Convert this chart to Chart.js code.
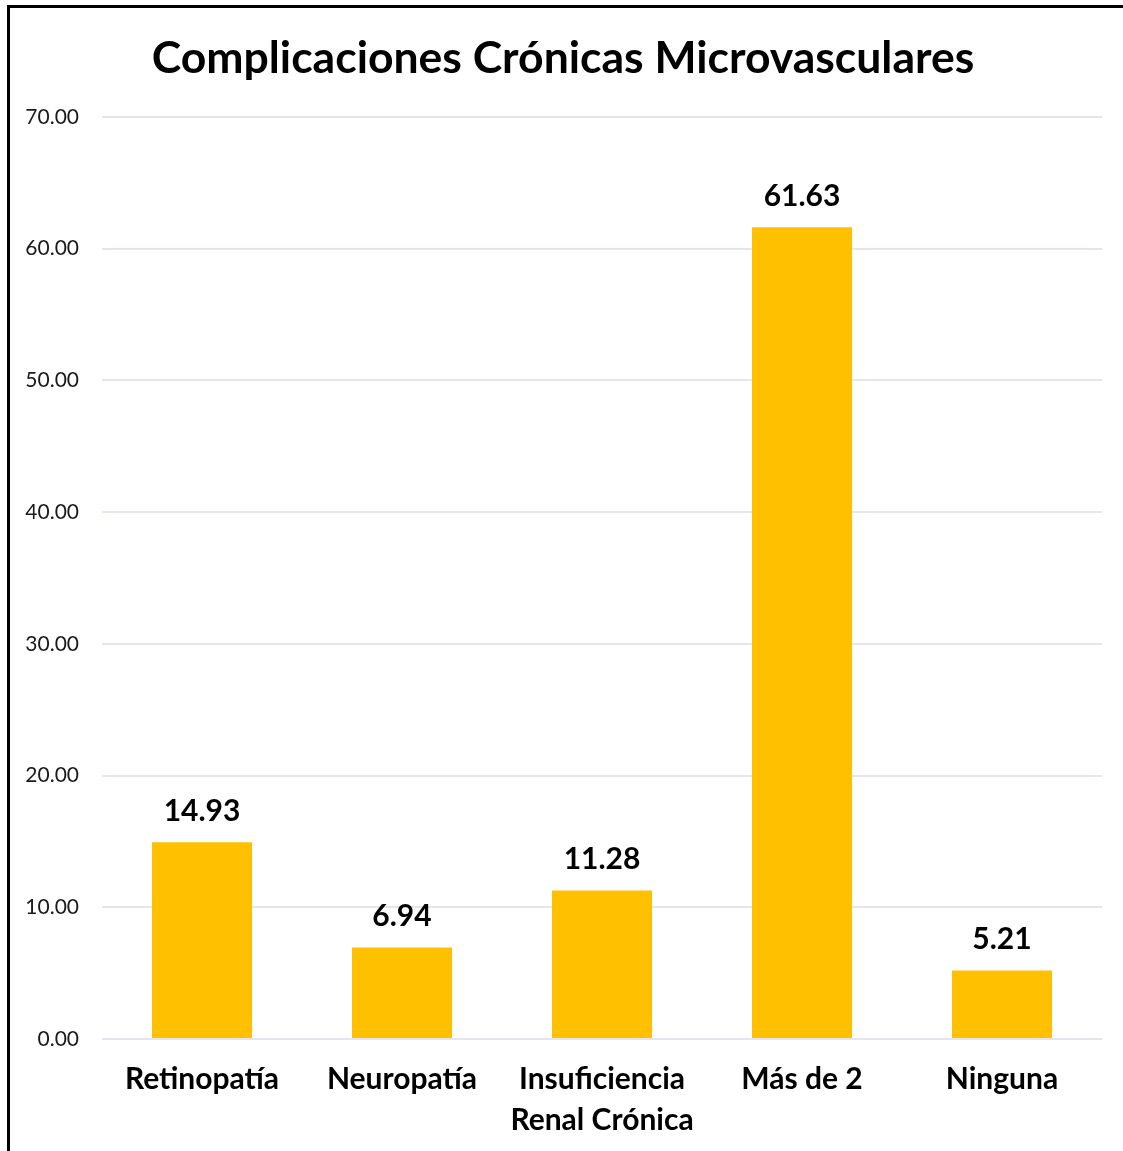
<!DOCTYPE html>
<html>
<head>
<meta charset="utf-8">
<script src="https://cdn.jsdelivr.net/npm/chart.js@4.4.1/dist/chart.umd.min.js"></script>
<style>
  html, body { margin: 0; padding: 0; background: #fff; overflow: hidden; }
  #frame { position: absolute; left: 7px; top: 5px; width: 1300px; height: 1300px; border: 3px solid #000; box-sizing: border-box; }
  #c { position: absolute; left: 0; top: 0; }
</style>
</head>
<body>
<div id="frame"></div>
<canvas id="c" width="1123" height="1151"></canvas>
<script>
const chartTitle = 'Complicaciones Crónicas Microvasculares';
const categories = ['Retinopatía', 'Neuropatía', ['Insuficiencia', 'Renal Crónica'], 'Más de 2', 'Ninguna'];
const values = [14.93, 6.94, 11.28, 61.63, 5.21];
const yTicks = [0, 10, 20, 30, 40, 50, 60, 70];

const FONT = 'Lato, "Open Sans", sans-serif';

const valueLabels = {
  id: 'valueLabels',
  afterDatasetsDraw(chart) {
    const ctx = chart.ctx;
    const meta = chart.getDatasetMeta(0);
    ctx.save();
    ctx.font = 'bold 30px ' + FONT;
    ctx.fillStyle = '#000';
    ctx.textAlign = 'center';
    ctx.textBaseline = 'middle';
    meta.data.forEach((bar, i) => {
      ctx.fillText(values[i].toFixed(2), bar.x, bar.y - 31);
    });
    ctx.restore();
  }
};

new Chart(document.getElementById('c'), {
  type: 'bar',
  data: {
    labels: categories,
    datasets: [{
      data: values,
      backgroundColor: '#FFC000',
      barPercentage: 0.5,
      categoryPercentage: 1.0
    }]
  },
  options: {
    responsive: false,
    animation: false,
    layout: { padding: { left: 24, right: 21, top: 0, bottom: 0 } },
    plugins: {
      legend: { display: false },
      tooltip: { enabled: false },
      title: {
        display: true,
        text: chartTitle,
        color: '#000',
        font: { family: FONT, size: 44.5, weight: 'bold', lineHeight: 1.2 },
        padding: { top: 32, bottom: 31.6 }
      }
    },
    scales: {
      x: {
        grid: { display: false, drawTicks: false },
        border: { display: false },
        ticks: {
          color: '#000',
          font: { family: FONT, size: 30, weight: 'bold', lineHeight: 1.37 },
          padding: 20,
          maxRotation: 0,
          autoSkip: false
        },
        afterFit(scale) { scale.height = 112; }
      },
      y: {
        min: 0,
        max: 70,
        afterBuildTicks(scale) { scale.ticks = yTicks.map(v => ({ value: v })); },
        grid: { color: '#E3E6EC', lineWidth: 2, drawTicks: false },
        border: { display: false },
        ticks: {
          color: '#1a1a1a',
          font: { family: FONT, size: 21 },
          padding: 23,
          callback: (v) => Number(v).toFixed(2)
        },
        afterFit(scale) { scale.width = 78; }
      }
    }
  },
  plugins: [valueLabels]
});
</script>
</body>
</html>
